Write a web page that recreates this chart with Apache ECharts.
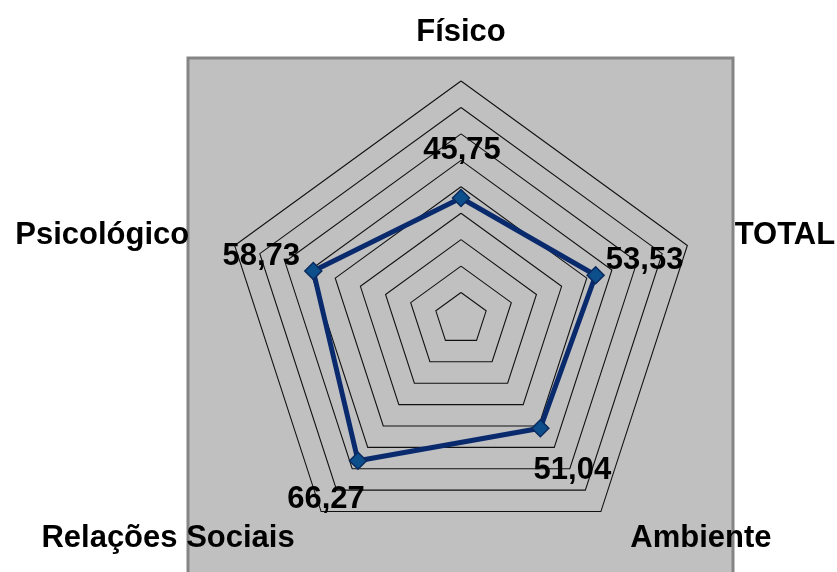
<!DOCTYPE html>
<html>
<head>
<meta charset="utf-8">
<script src="https://cdn.jsdelivr.net/npm/echarts@6/dist/echarts.min.js"></script>
<style>
  html, body { margin: 0; padding: 0; background: #fff; }
  #chart { width: 837px; height: 572px; }
</style>
</head>
<body>
<div id="chart"></div>
<script>
// indicators, counter-clockwise from the top
var dimensoes = ['Físico', 'Psicológico', 'Relações Sociais', 'Ambiente', 'TOTAL'];
var valores = [45.75, 58.73, 66.27, 51.04, 53.53];
var maximo = 90;

var CX = 461, CY = 319, RAIO = 238;
var fonte = '"Liberation Sans", Arial, sans-serif';

// label offsets by position: top, upper-left, lower-left, lower-right, upper-right
var labelOffsets = [[1, -48], [-52, -15], [-32, 39], [32, 42], [49, -15]];
// extra push of the axis names
var nomeRich = {
    n0: {padding: [0, 0, 0, 0]},
    n1: {padding: [0, 14, 0, 0]},
    n2: {padding: [0, 7, 0, 0]},
    n3: {padding: [0, 0, 0, 10]},
    n4: {padding: [0, 0, 0, 16]}
};
for (var k in nomeRich) {
    nomeRich[k].fontSize = 31;
    nomeRich[k].fontWeight = 'bold';
    nomeRich[k].color = '#000';
    nomeRich[k].fontFamily = fonte;
}

var dom = document.getElementById('chart');
var myChart = echarts.init(dom);

var option = {
    animation: false,
    graphic: {
        elements: [{
            type: 'rect',
            z: -10,
            shape: {x: 188, y: 58, width: 545, height: 540},
            style: {fill: '#c0c0c0', stroke: '#858585', lineWidth: 3}
        }]
    },
    radar: {
        center: [CX, CY],
        radius: RAIO,
        startAngle: 90,
        shape: 'polygon',
        splitNumber: 9,
        nameGap: 33,
        indicator: dimensoes.map(function (d) {
            return {name: d, min: 0, max: maximo};
        }),
        axisName: {
            formatter: function (name) {
                return '{n' + dimensoes.indexOf(name) + '|' + name + '}';
            },
            rich: nomeRich
        },
        axisLine: {show: false},
        axisTick: {show: false},
        axisLabel: {show: false},
        splitArea: {show: false},
        splitLine: {lineStyle: {color: '#111', width: 1.1}}
    },
    series: [{
        type: 'radar',
        symbol: 'diamond',
        symbolSize: 17,
        lineStyle: {color: '#0a2a6e', width: 5},
        itemStyle: {color: '#0d4f8b', borderColor: '#0a2a5e', borderWidth: 1.5},
        label: {
            show: true,
            fontSize: 31,
            fontWeight: 'bold',
            fontFamily: fonte,
            color: '#000',
            formatter: function (p) {
                return p.value.toFixed(2).replace('.', ',');
            }
        },
        labelLayout: function (p) {
            var mx = p.rect.x + p.rect.width / 2;
            var my = p.rect.y + p.rect.height / 2;
            var a = Math.atan2(CY - my, mx - CX) * 180 / Math.PI;
            var idx = Math.round((((a - 90) % 360) + 360) % 360 / 72) % 5;
            var o = labelOffsets[idx];
            return {x: mx + o[0], y: my + o[1], align: 'center', verticalAlign: 'middle'};
        },
        data: [{value: valores, name: 'Média'}]
    }]
};

if (option && typeof option === 'object') {
    myChart.setOption(option, true);
}
</script>
</body>
</html>
